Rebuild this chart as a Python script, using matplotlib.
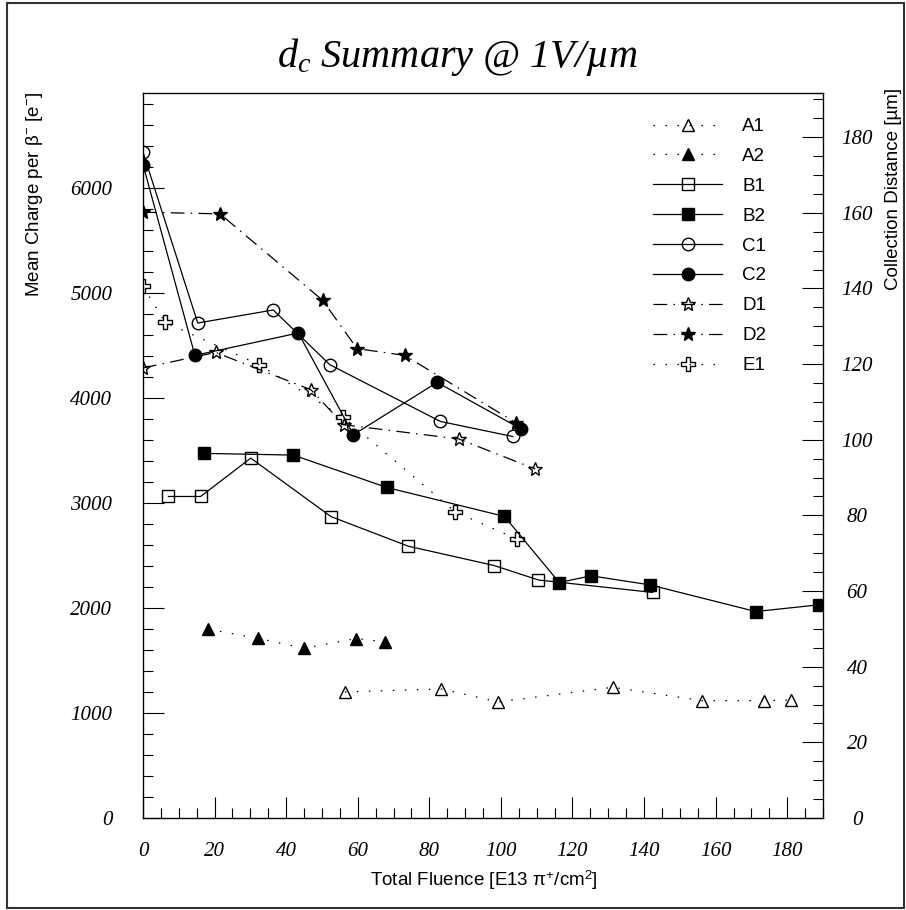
import matplotlib
matplotlib.use('Agg')
import matplotlib.pyplot as plt
from matplotlib.ticker import MultipleLocator
from matplotlib.patches import Rectangle

plt.rcParams['font.family'] = ['Liberation Serif', 'DejaVu Serif']
plt.rcParams['mathtext.fontset'] = 'custom'
plt.rcParams['mathtext.it'] = 'Liberation Serif:italic'
plt.rcParams['mathtext.rm'] = 'Liberation Serif'

# fluence [E13 pi+/cm2] and mean charge [e-]
a1_x = [56.4, 83.3, 99.3, 131.2, 156.3, 173.4, 181.1]
a1_y = [1200, 1228, 1105, 1244, 1117, 1117, 1123]
a2_x = [18.2, 32.0, 45.0, 59.6, 67.6]
a2_y = [1797, 1711, 1616, 1708, 1676]
b1_x = [7.1, 16.1, 30.1, 52.5, 74.1, 98.1, 110.5, 142.4]
b1_y = [3060, 3060, 3425, 2869, 2587, 2403, 2265, 2147]
b2_x = [17.1, 42.0, 68.1, 101.0, 116.3, 125.2, 141.6, 171.2, 188.9]
b2_y = [3470, 3454, 3146, 2870, 2241, 2305, 2219, 1965, 2029]
c1_x = [0, 15.3, 36.4, 52.2, 83.1, 103.3]
c1_y = [6336, 4711, 4835, 4314, 3774, 3631]
c2_x = [0, 14.5, 43.4, 58.8, 82.2, 105.5]
c2_y = [6219, 4403, 4616, 3648, 4146, 3705]
d1_x = [0, 20.3, 46.9, 56.1, 88.3, 109.6]
d1_y = [4283, 4431, 4076, 3743, 3607, 3321]
d2_x = [0, 21.5, 50.2, 59.8, 73.1, 104.3]
d2_y = [5765, 5750, 4927, 4467, 4403, 3759]
e1_x = [0, 6.2, 32.5, 55.9, 87.1, 104.5]
e1_y = [5060, 4717, 4314, 3816, 2917, 2654]

e_per_um = 36.0
ymax = 6900

dotted = (0, (1.2, 8.4))
dashdot = (0, (11, 5, 1.2, 5))
solid = '-'

series = [
    ("A1", a1_x, a1_y, '^', 'none', dotted, 9),
    ("A2", a2_x, a2_y, '^', 'black', dotted, 9),
    ("B1", b1_x, b1_y, 's', 'none', solid, 9),
    ("B2", b2_x, b2_y, 's', 'black', solid, 9),
    ("C1", c1_x, c1_y, 'o', 'none', solid, 9),
    ("C2", c2_x, c2_y, 'o', 'black', solid, 9),
    ("D1", d1_x, d1_y, '*', 'none', dashdot, 10.5),
    ("D2", d2_x, d2_y, '*', 'black', dashdot, 10),
    ("E1", e1_x, e1_y, 'P', 'none', dotted, 10),
]

fig = plt.figure(figsize=(9.06, 9.10), dpi=100)
ax = fig.add_axes([143/906, 92/910, 680/906, 725/910])

handles = []
for name, xs, ys, mk, fc, ls, ms in series:
    h, = ax.plot(xs, ys, color='black', lw=0.9, ls=ls, marker=mk, ms=ms,
                 mfc=fc, mec='black', mew=1.0, label=name)
    handles.append(h)

ax.set_xlim(0, 190)
ax.set_ylim(0, ymax)
ax.xaxis.set_major_locator(MultipleLocator(20))
ax.xaxis.set_minor_locator(MultipleLocator(5))
ax.yaxis.set_major_locator(MultipleLocator(1000))
ax.yaxis.set_minor_locator(MultipleLocator(200))
ax.tick_params(axis='both', which='both', direction='in', top=False, right=False,
               width=0.8, labelsize=15)
ax.tick_params(axis='both', which='major', length=15)
ax.tick_params(axis='both', which='minor', length=7.5)
ax.tick_params(axis='x', pad=17)
ax.tick_params(axis='y', pad=22)
for sp in ax.spines.values():
    sp.set_linewidth(0.9)

ax2 = ax.twinx()
ax2.set_ylim(0, ymax / e_per_um)
ax2.yaxis.set_major_locator(MultipleLocator(20))
ax2.yaxis.set_minor_locator(MultipleLocator(5))
ax2.tick_params(axis='y', which='both', direction='in', width=0.8, labelsize=15, pad=24.5)
ax2.tick_params(axis='y', which='major', length=15)
ax2.tick_params(axis='y', which='minor', length=7.5)

for lab in ax.get_xticklabels() + ax.get_yticklabels():
    lab.set_fontstyle('italic')
for lab in ax2.get_yticklabels():
    lab.set_fontstyle('italic')
    lab.set_horizontalalignment('center')

sans = ['Liberation Sans', 'DejaVu Sans']
fig.text(484/906, 1 - 880/910, 'Total Fluence [E13 π$^{\\mathregular{+}}$/cm$^{\\mathregular{2}}$]',
         family=sans, fontsize=13.5, ha='center', va='center')
fig.text(35/906, 1 - 92/910, 'Mean Charge per β$^{\\mathregular{-}}$ [e$^{\\mathregular{-}}$]',
         family=sans, fontsize=13.5, rotation=90, ha='center', va='top')
fig.text(893/906, 1 - 88/910, 'Collection Distance [µm]',
         family=sans, fontsize=13.5, rotation=90, ha='center', va='top')

fig.text(458/906, 1 - 67/910, r'$d_c$ Summary @ 1V/µm', fontsize=29,
         style='italic', ha='center', va='baseline')

ax.legend(handles=handles, loc='upper left', bbox_to_anchor=(653/906, 1 - 118/910),
          bbox_transform=fig.transFigure, frameon=False, borderpad=0, borderaxespad=0,
          handlelength=3.7, handletextpad=1.05, labelspacing=0.68, numpoints=1,
          prop={'family': sans, 'size': 13.5})

fig.patches.append(Rectangle((7/906, 2/910), 897/906, 905/910, transform=fig.transFigure,
                             fill=False, edgecolor='#333333', lw=1.5))

fig.savefig('out.png', dpi=100)
